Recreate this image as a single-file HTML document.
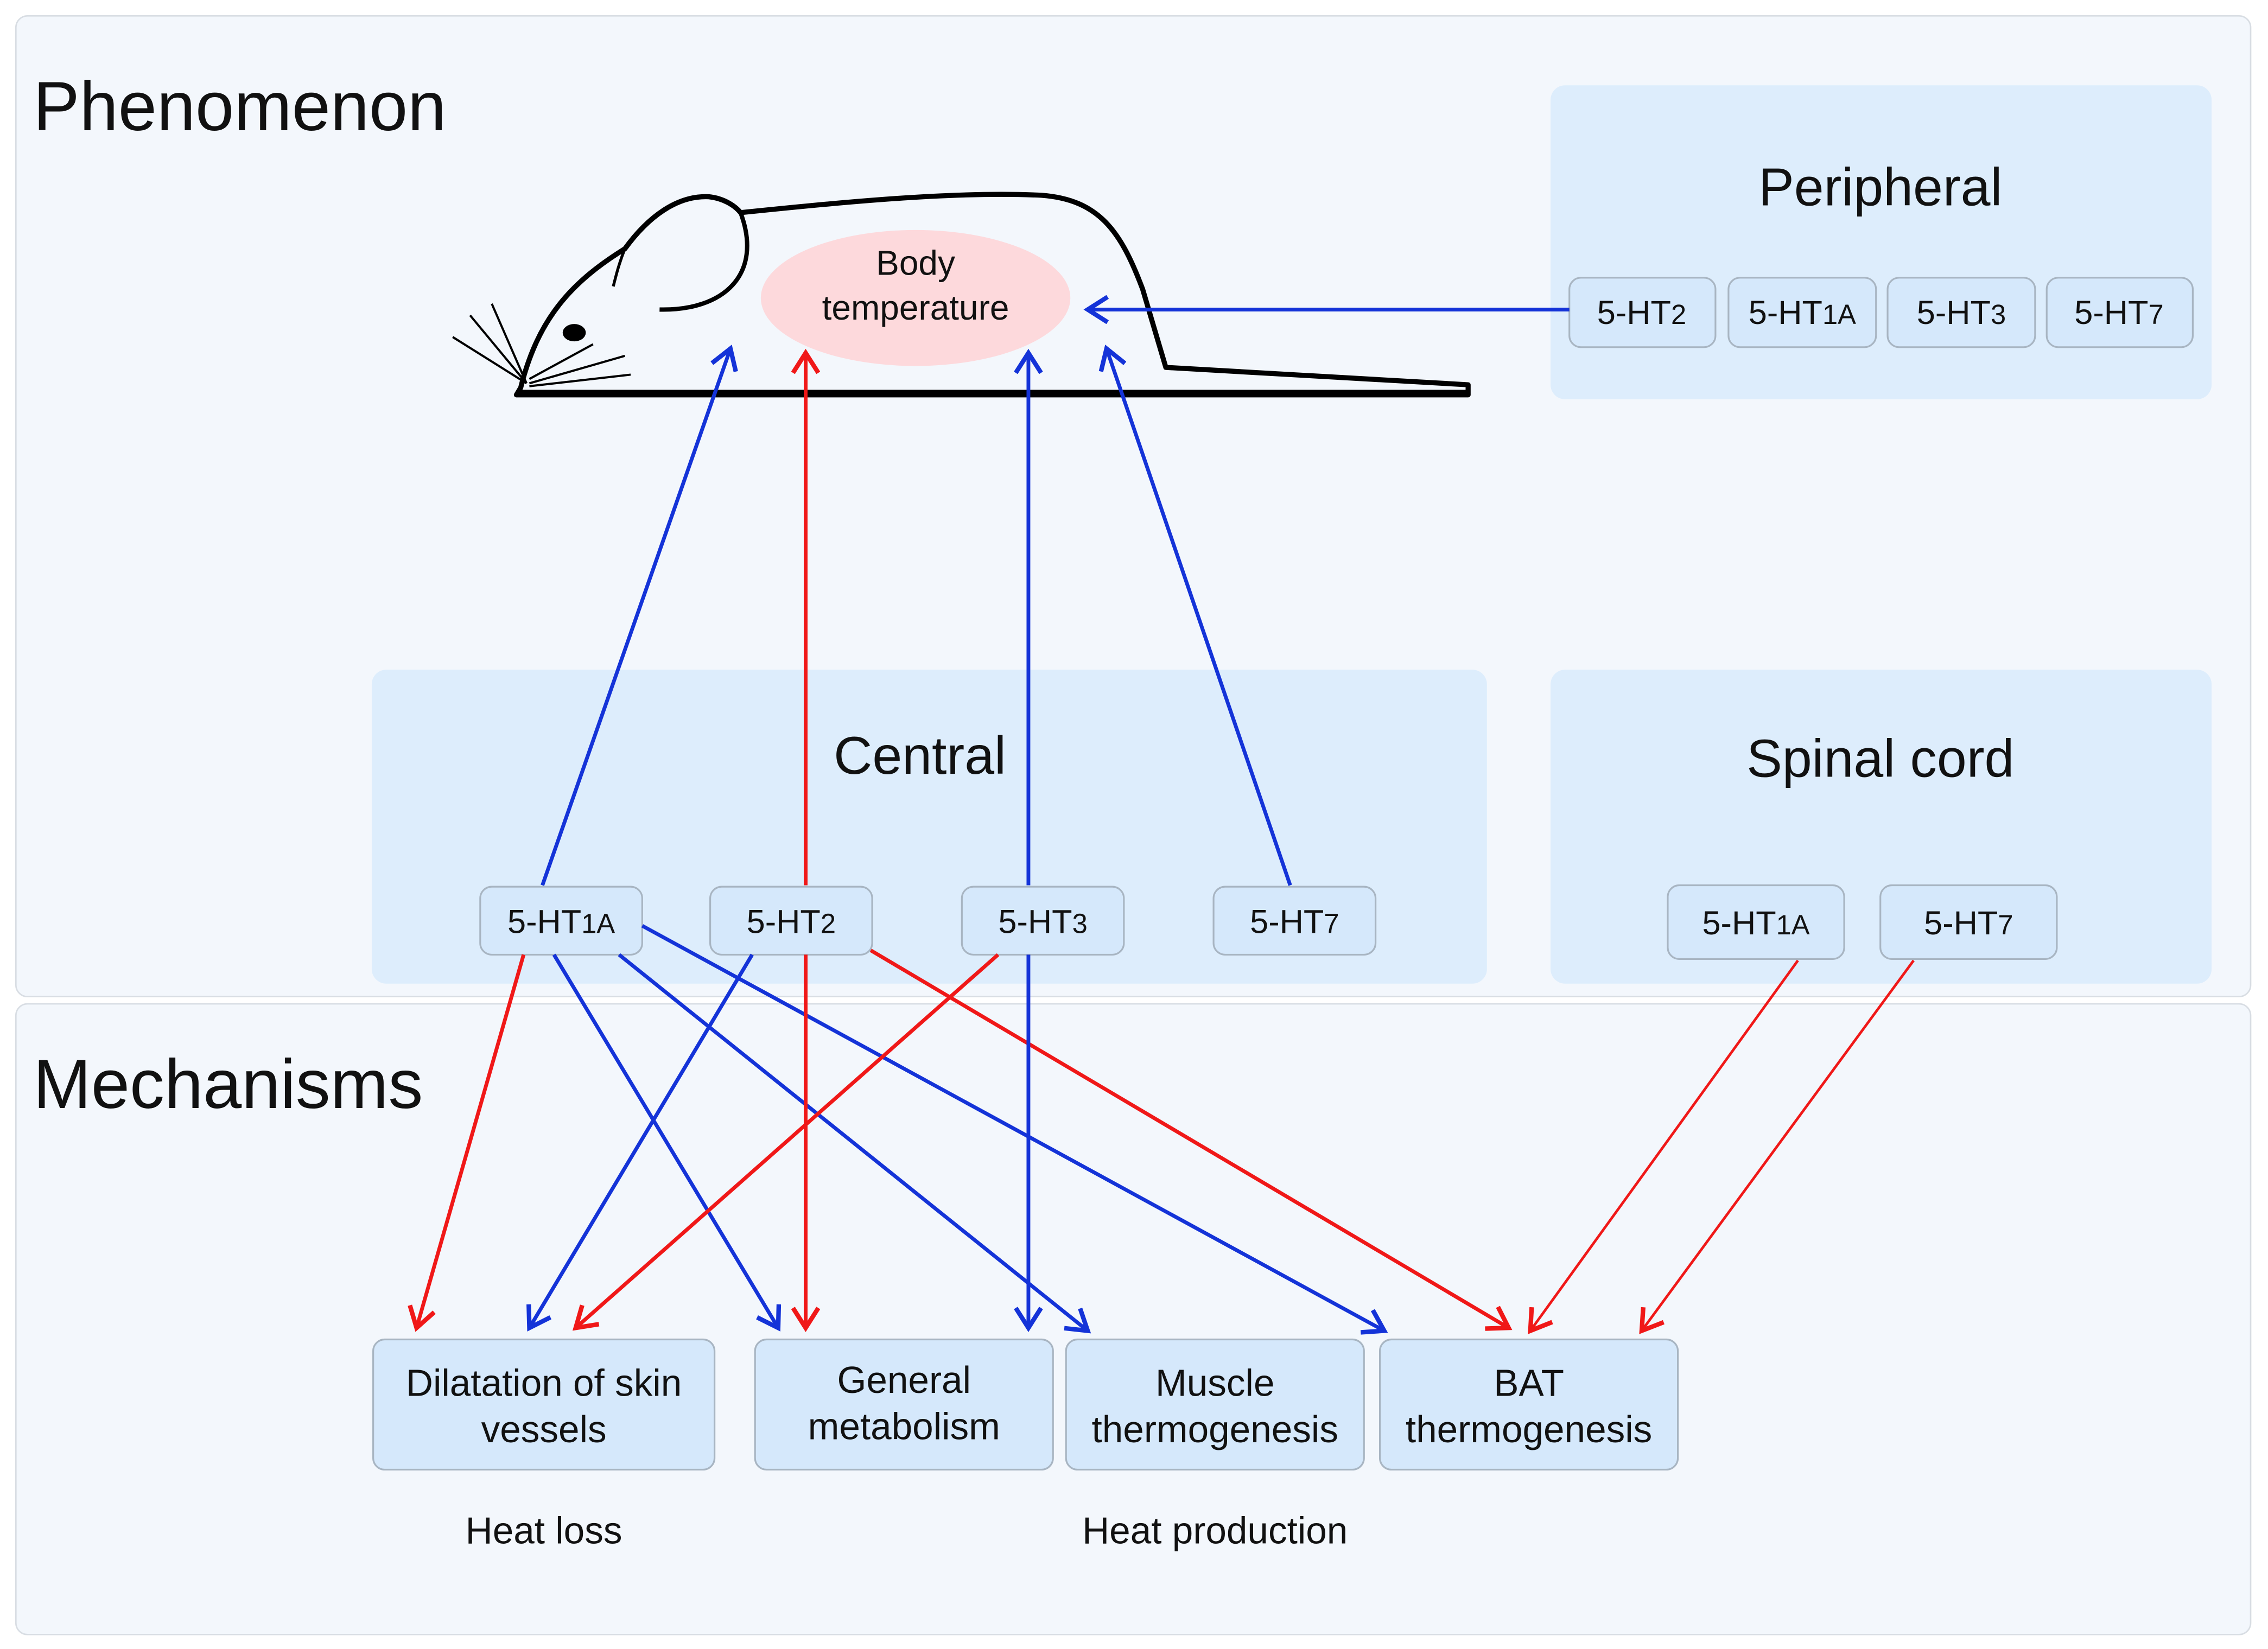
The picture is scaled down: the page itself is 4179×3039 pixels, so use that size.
<!DOCTYPE html>
<html><head><meta charset="utf-8"><style>html,body{margin:0;padding:0;background:#fff}svg{display:block}text{font-family:"Liberation Sans",sans-serif;fill:#111}</style></head>
<body>
<svg width="4179" height="3039" viewBox="0 0 1568 1140" preserveAspectRatio="none" xmlns="http://www.w3.org/2000/svg">
<defs>
<marker id="ab" markerWidth="20" markerHeight="20" viewBox="-12 -8 14 16" refX="0" refY="0" orient="auto" markerUnits="userSpaceOnUse"><path d="M-11,-7 L0,0 L-11,7" fill="none" stroke="#1433d8" stroke-width="2.5"/></marker>
<marker id="ar" markerWidth="20" markerHeight="20" viewBox="-12 -8 14 16" refX="0" refY="0" orient="auto" markerUnits="userSpaceOnUse"><path d="M-11,-7 L0,0 L-11,7" fill="none" stroke="#f01818" stroke-width="2.5"/></marker>
</defs>
<rect width="1568" height="1140" fill="#fff"/>
<rect x="11" y="11" width="1545" height="678" rx="8" fill="#f3f7fc" stroke="#d8dde3"/>
<rect x="11" y="694" width="1545" height="436" rx="8" fill="#f3f7fc" stroke="#d8dde3"/>
<rect x="1072" y="59" width="457" height="217" rx="10" fill="#ddedfc"/>
<rect x="257" y="463" width="771" height="217" rx="10" fill="#ddedfc"/>
<rect x="1072" y="463" width="457" height="217" rx="10" fill="#ddedfc"/>
<text x="23" y="90" font-size="48">Phenomenon</text>
<text x="23" y="766" font-size="48">Mechanisms</text>
<text x="1300" y="142" font-size="37" text-anchor="middle">Peripheral</text>
<text x="636" y="535" font-size="37" text-anchor="middle">Central</text>
<text x="1300" y="537" font-size="37" text-anchor="middle">Spinal cord</text>
<ellipse cx="633" cy="206" rx="107" ry="47" fill="#fdd9dc"/>
<path d="M360,268 C372,220 395,195 432,172 C448,150 468,135 490,136 C500,137 508,142 512,147 C580,140 660,132 720,135 C760,138 775,160 790,200 L806,254 L1015,266 L1015,273 L357,273 Z" fill="none" stroke="#000" stroke-width="3.5" stroke-linejoin="round"/>
<path d="M512,147 C528,190 500,215 456,214" fill="none" stroke="#000" stroke-width="3"/>
<path d="M432,172 C428,182 426,190 424,198" fill="none" stroke="#000" stroke-width="2"/>
<line x1="357" y1="272" x2="1015" y2="272" stroke="#000" stroke-width="5"/>
<ellipse cx="397" cy="230" rx="8" ry="6" fill="#000"/>
<g stroke="#000" stroke-width="1.5"><line x1="364" y1="265" x2="313" y2="233"/><line x1="364" y1="265" x2="325" y2="218"/><line x1="364" y1="265" x2="340" y2="210"/><line x1="366" y1="262" x2="410" y2="238"/><line x1="366" y1="265" x2="432" y2="246"/><line x1="366" y1="267" x2="436" y2="259"/></g>
<text x="633" y="190" font-size="24" text-anchor="middle">Body</text>
<text x="633" y="221" font-size="24" text-anchor="middle">temperature</text>
<g fill="#d5e8fb" stroke="#a8b5c2" stroke-width="1.2">
<rect x="1085" y="192" width="101" height="48" rx="8"/><rect x="1195" y="192" width="102" height="48" rx="8"/><rect x="1305" y="192" width="102" height="48" rx="8"/><rect x="1415" y="192" width="101" height="48" rx="8"/>
<rect x="332" y="613" width="112" height="47" rx="8"/><rect x="491" y="613" width="112" height="47" rx="8"/><rect x="665" y="613" width="112" height="47" rx="8"/><rect x="839" y="613" width="112" height="47" rx="8"/>
<rect x="1153" y="612" width="122" height="51" rx="8"/><rect x="1300" y="612" width="122" height="51" rx="8"/>
<rect x="258" y="926" width="236" height="90" rx="8"/><rect x="522" y="926" width="206" height="90" rx="8"/><rect x="737" y="926" width="206" height="90" rx="8"/><rect x="954" y="926" width="206" height="90" rx="8"/>
</g>
<g font-size="23" text-anchor="middle">
<text x="1135" y="224">5-HT<tspan font-size="19">2</tspan></text>
<text x="1246" y="224">5-HT<tspan font-size="19">1A</tspan></text>
<text x="1356" y="224">5-HT<tspan font-size="19">3</tspan></text>
<text x="1465" y="224">5-HT<tspan font-size="19">7</tspan></text>
<text x="388" y="645">5-HT<tspan font-size="19">1A</tspan></text>
<text x="547" y="645">5-HT<tspan font-size="19">2</tspan></text>
<text x="721" y="645">5-HT<tspan font-size="19">3</tspan></text>
<text x="895" y="645">5-HT<tspan font-size="19">7</tspan></text>
<text x="1214" y="646">5-HT<tspan font-size="19">1A</tspan></text>
<text x="1361" y="646">5-HT<tspan font-size="19">7</tspan></text>
</g>
<g font-size="26" text-anchor="middle">
<text x="376" y="965">Dilatation of skin</text><text x="376" y="997">vessels</text>
<text x="625" y="963">General</text><text x="625" y="995">metabolism</text>
<text x="840" y="965">Muscle</text><text x="840" y="997">thermogenesis</text>
<text x="1057" y="965">BAT</text><text x="1057" y="997">thermogenesis</text>
<text x="376" y="1067">Heat loss</text><text x="840" y="1067">Heat production</text>
</g>
<g fill="none" stroke-width="2.6">
<line x1="375" y1="612" x2="505" y2="241" stroke="#1433d8" marker-end="url(#ab)"/>
<line x1="557" y1="612" x2="557" y2="244" stroke="#f01818" marker-end="url(#ar)"/>
<line x1="711" y1="612" x2="711" y2="244" stroke="#1433d8" marker-end="url(#ab)"/>
<line x1="892" y1="612" x2="765" y2="241" stroke="#1433d8" marker-end="url(#ab)"/>
<line x1="1085" y1="214" x2="752" y2="214" stroke="#1433d8" marker-end="url(#ab)"/>
<line x1="362" y1="660" x2="288" y2="918" stroke="#f01818" marker-end="url(#ar)"/>
<line x1="383" y1="660" x2="538" y2="918" stroke="#1433d8" marker-end="url(#ab)"/>
<line x1="428" y1="660" x2="752" y2="920" stroke="#1433d8" marker-end="url(#ab)"/>
<line x1="444" y1="640" x2="957" y2="920" stroke="#1433d8" marker-end="url(#ab)"/>
<line x1="520" y1="660" x2="366" y2="918" stroke="#1433d8" marker-end="url(#ab)"/>
<line x1="557" y1="660" x2="557" y2="918" stroke="#f01818" marker-end="url(#ar)"/>
<line x1="602" y1="657" x2="1043" y2="918" stroke="#f01818" marker-end="url(#ar)"/>
<line x1="690" y1="660" x2="398" y2="918" stroke="#f01818" marker-end="url(#ar)"/>
<line x1="711" y1="660" x2="711" y2="918" stroke="#1433d8" marker-end="url(#ab)"/>
<line x1="1243" y1="664" x2="1058" y2="920" stroke="#f01818" stroke-width="1.8" marker-end="url(#ar)"/>
<line x1="1323" y1="664" x2="1135" y2="920" stroke="#f01818" stroke-width="1.8" marker-end="url(#ar)"/>
</g>
</svg>
</body></html>
